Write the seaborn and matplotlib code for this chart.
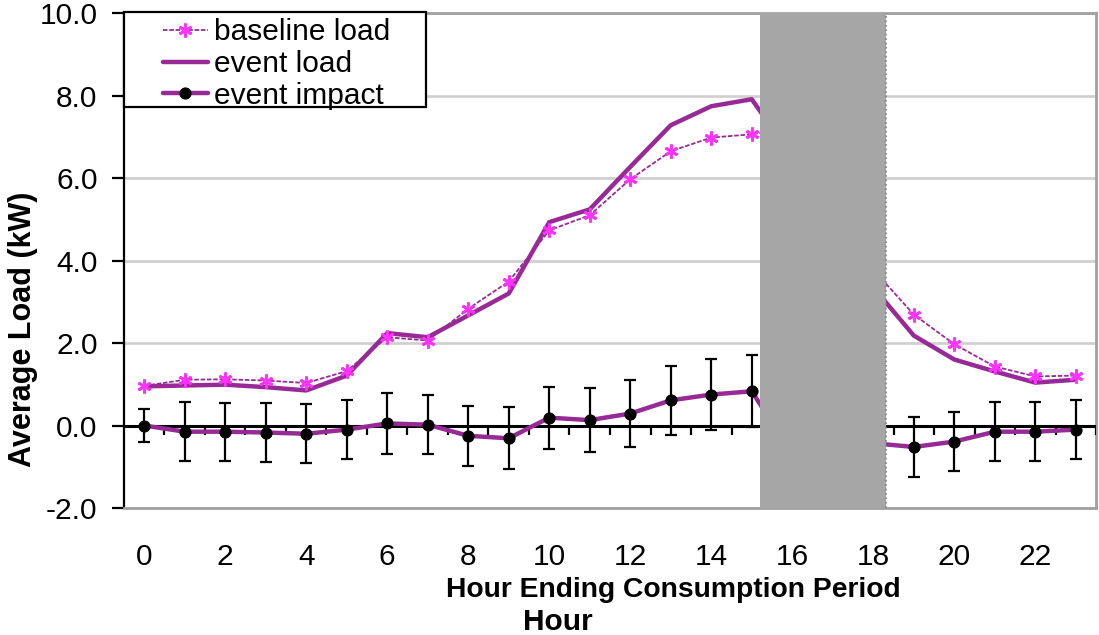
import numpy as np
import pandas as pd
import matplotlib
matplotlib.use("Agg")
import matplotlib.pyplot as plt
from matplotlib.patches import Rectangle
import seaborn as sns

# valores (kW por hora)
hours = list(range(24))
baseline = [0.96, 1.11, 1.12, 1.09, 1.03, 1.32, 2.14, 2.06, 2.83, 3.49, 4.73, 5.10,
            5.97, 6.65, 6.98, 7.06, 7.20, 5.50, 3.78, 2.69, 1.97, 1.43, 1.19, 1.21]
event = [0.95, 0.97, 0.99, 0.93, 0.85, 1.21, 2.24, 2.14, 2.67, 3.20, 4.93, 5.24,
         6.27, 7.28, 7.74, 7.91, 6.50, 4.90, 3.35, 2.18, 1.60, 1.31, 1.04, 1.11]
impact = [0.00, -0.15, -0.15, -0.17, -0.20, -0.10, 0.05, 0.02, -0.25, -0.31, 0.19, 0.13,
          0.29, 0.61, 0.75, 0.83, -0.70, -0.60, -0.43, -0.52, -0.39, -0.15, -0.15, -0.10]
err = [0.41, 0.71, 0.70, 0.72, 0.72, 0.71, 0.73, 0.72, 0.73, 0.75, 0.75, 0.78,
       0.81, 0.84, 0.87, 0.87, 0.80, 0.80, 0.75, 0.72, 0.72, 0.72, 0.72, 0.72]
event_start = 15.21
event_end = 18.32
xticks = list(range(0, 24, 2))
yticks = [-2.0, 0.0, 2.0, 4.0, 6.0, 8.0, 10.0]

df = pd.DataFrame({"hour": hours, "baseline": baseline, "event": event,
                   "impact": impact, "err": err})

sns.set_style("white")
plt.rcParams['font.family'] = ['Liberation Sans', 'DejaVu Sans']
plt.rcParams['axes.unicode_minus'] = False
plt.rcParams['text.color'] = 'black'
plt.rcParams['xtick.color'] = 'black'
plt.rcParams['ytick.color'] = 'black'

roxo = "#982A98"
magenta = "#FF33FF"
fs = 21.5

fig = plt.figure(figsize=(10.99, 6.35), dpi=100)
ax = fig.add_axes([0.1128, 0.2, 0.8845, 0.7795])

ax.yaxis.grid(True, color="#D0D0D0", lw=2, zorder=0)
ax.set_axisbelow(True)

# linhas
sns.lineplot(data=df, x="hour", y="baseline", ax=ax, color=roxo, lw=1.3,
             linestyle=(0, (2.5, 1)), marker=(6, 2, 0), markersize=10,
             markeredgecolor=magenta, markerfacecolor=magenta, markeredgewidth=2,
             label="baseline load", zorder=2.5)
sns.lineplot(data=df, x="hour", y="event", ax=ax, color=roxo, lw=3.2,
             label="event load", zorder=2.4)
sns.lineplot(data=df, x="hour", y="impact", ax=ax, color=roxo, lw=3.2,
             marker="o", markersize=8, markerfacecolor="black",
             markeredgecolor="black", label="event impact", zorder=3.2)
ax.errorbar(df["hour"], df["impact"], yerr=df["err"], fmt="none", ecolor="black",
            elinewidth=1.6, capsize=4, capthick=1.6, zorder=3.1)

# eixo no zero com marcas entre categorias
ax.axhline(0, color="black", lw=2.2, zorder=3)
ax.vlines(np.array(hours) + 0.5, -0.22, 0, color="black", lw=1.6, zorder=3)

# periodo do evento
ax.axvspan(event_start, event_end, color="#A6A6A6", lw=0, zorder=4)
ax.axvline(event_end, color="#808080", ls=":", lw=1.2, zorder=4.5)

ax.set_xlim(-0.5, 23.5)
ax.set_ylim(-2.0, 10.0)
ax.set_xticks(xticks)
ax.set_yticks(yticks)
ax.set_yticklabels([f"{v:.1f}" for v in yticks])
ax.tick_params(axis="x", length=0, pad=25, labelsize=fs, labelcolor="black")
ax.tick_params(axis="y", direction="out", length=9, width=1.6, color="black",
               pad=10, labelsize=fs, left=True, labelcolor="black")
ax.set_xlabel("")
ax.set_ylabel("")

for s in ["top", "right", "bottom"]:
    ax.spines[s].set_color("#A0A0A0")
    ax.spines[s].set_linewidth(2)
ax.spines["left"].set_color("black")
ax.spines["left"].set_linewidth(1.6)

# legenda com caixa
ax.add_patch(Rectangle((0, 0.81), 0.311, 0.192, transform=ax.transAxes,
                       facecolor="white", edgecolor="black", lw=1.6,
                       zorder=5, clip_on=False))
leg = ax.legend(loc="upper left", bbox_to_anchor=(0.04, 0.989), borderaxespad=0,
                borderpad=0, labelspacing=0.12, handlelength=1.5,
                handletextpad=0.2, frameon=False, fontsize=fs)
leg.set_zorder(6)

fig.text(0.021, 0.482, "Average Load (kW)", rotation=90, ha="center", va="center",
         fontsize=22, fontweight="bold")
fig.text(0.613, 0.071, "Hour Ending Consumption Period", ha="center", va="center",
         fontsize=20.3, fontweight="bold")
fig.text(0.508, 0.021, "Hour", ha="center", va="center",
         fontsize=fs, fontweight="bold")

fig.savefig("out.png", dpi=100)
